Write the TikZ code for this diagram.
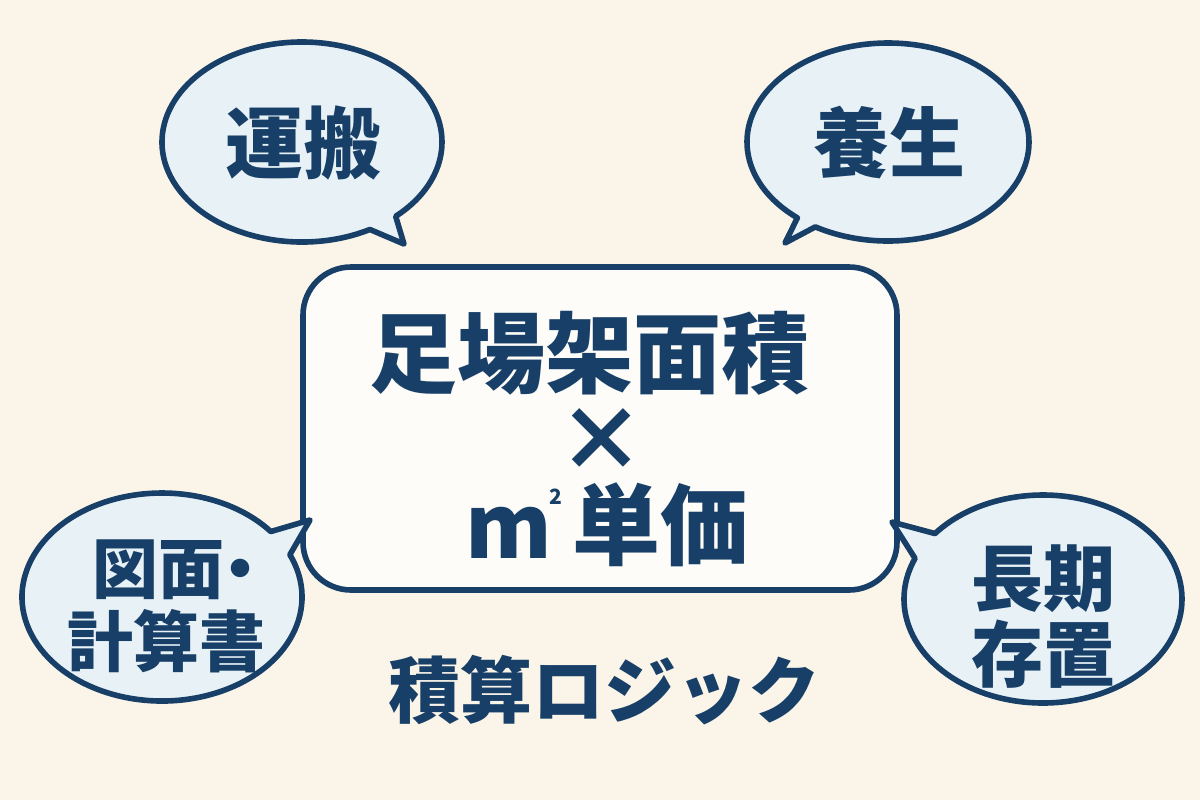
\documentclass[tikz,border=0pt]{standalone}
\usepackage{fontspec}
\newfontfamily\jp{Noto Sans CJK JP}[BoldFont={Noto Sans CJK JP Black}]
\usetikzlibrary{calc}
\definecolor{navy}{HTML}{173F67}
\definecolor{bg}{HTML}{FBF5E9}
\definecolor{bubfill}{HTML}{E8F2F6}
\definecolor{boxfill}{HTML}{FDFCF8}
\begin{document}
\begin{tikzpicture}[x=0.5pt,y=-0.5pt,
  bubble/.style={draw=navy, fill=bubfill, line width=2.8pt, line join=round},
  mainbox/.style={draw=navy, fill=boxfill, line width=2.8pt, rounded corners=24pt,
    minimum width=297pt, minimum height=161.5pt, inner sep=0pt},
  txt/.style={text=navy, inner sep=0pt, font=\jp\bfseries}]
\fill[bg] (0,0) rectangle (1200,800);
\useasboundingbox (0,0) rectangle (1200,800);

% central box
\node[mainbox] (box) at (600,428.5) {};

% bubble centres and tail tips
\coordinate (c1) at (302,142);
\coordinate (t1) at (404,244);
\coordinate (c2) at (888,142);
\coordinate (t2) at (785,243);
\coordinate (c3) at (162,597);
\coordinate (t3) at (310,520);
\coordinate (c4) at (1043,599);
\coordinate (t4) at (892,522);

\draw[bubble] ($(c1)+(61:140 and 100)$) arc[start angle=61, end angle=408, x radius=140, y radius=100] -- (t1) -- cycle;
\draw[bubble] ($(c2)+(130:141 and 99)$) arc[start angle=130, end angle=481, x radius=141, y radius=99] -- (t2) -- cycle;
\draw[bubble] ($(c3)+(-24:140 and 104)$) arc[start angle=-24, end angle=321, x radius=140, y radius=104] -- (t3) -- cycle;
\draw[bubble] ($(c4)+(219:139 and 104)$) arc[start angle=219, end angle=563, x radius=139, y radius=104] -- (t4) -- cycle;

% bubble texts
\node[txt, font=\jp\bfseries\fontsize{39pt}{39pt}\selectfont] (unpan) at (303,143) {運搬};
\node[txt, font=\jp\bfseries\fontsize{38pt}{38pt}\selectfont] (yojo) at (889,142) {養生};
\node[txt, anchor=west, font=\jp\bfseries\fontsize{33pt}{33pt}\selectfont] (zumen) at (92,570) {図面\kern-0.25em・};
\node[txt, anchor=west, font=\jp\bfseries\fontsize{33pt}{33pt}\selectfont] (keisan) at (67,641) {計算書};
\node[txt, align=center, font=\jp\bfseries\fontsize{36pt}{38pt}\selectfont] (choki) at (1043,617) {長期\\存置};

% central texts
\node[txt, font=\jp\bfseries\fontsize{44pt}{44pt}\selectfont] (l1) at (589,353) {足場架面積};
\node[txt, font=\jp\bfseries\fontsize{44pt}{44pt}\selectfont] (l2) at (601,440) {×};
\node[txt, font=\jp\bfseries\fontsize{44pt}{44pt}\selectfont] (l3) at (607,525)
  {m\kern-1pt\raisebox{27pt}{\fontsize{10.5pt}{10.5pt}\selectfont 2}\kern5pt 単価};

% caption
\node[txt, font=\jp\bfseries\fontsize{36pt}{36pt}\selectfont] (logic) at (604,690) {積算ロジック};
\end{tikzpicture}
\end{document}
